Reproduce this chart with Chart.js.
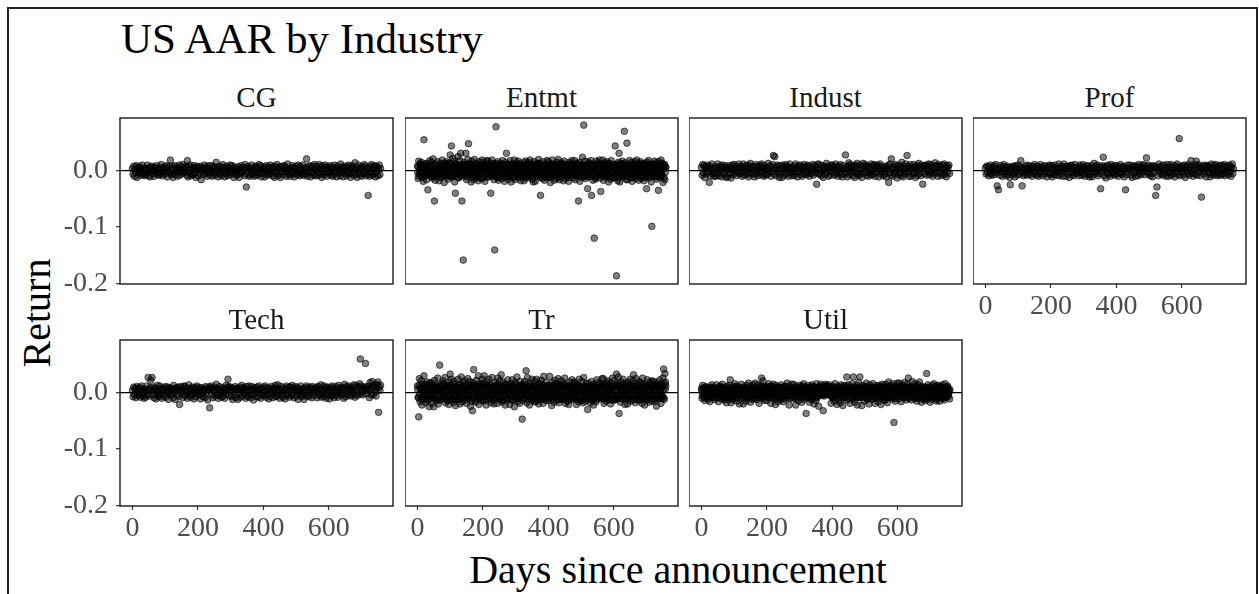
<!DOCTYPE html>
<html>
<head>
<meta charset="utf-8">
<script src="https://cdn.jsdelivr.net/npm/chart.js@4.4.0/dist/chart.umd.min.js"></script>
<style>
  html, body { margin: 0; padding: 0; background: #fff; }
  #fig { position: relative; width: 1259px; height: 594px; overflow: hidden; background: #fff;
         font-family: "Liberation Serif", "Times New Roman", serif; }
  #frame { position: absolute; left: 7px; top: 7px; width: 1251px; height: 620px;
           border: 2px solid #222; box-sizing: border-box; }
  .txt { position: absolute; white-space: nowrap; line-height: 1; }
  canvas { position: absolute; }
</style>
</head>
<body>
<div id="fig">
  <div id="frame"></div>
  <div class="txt" id="title" style="left:121px; top:17px; font-size:43px; color:#000;">US AAR by Industry</div>
  <div class="txt" id="ytitle" style="left:36.5px; top:313px; font-size:40px; color:#000; transform:translate(-50%,-50%) rotate(-90deg);">Return</div>
  <div class="txt" id="xtitle" style="left:678px; top:550px; font-size:40px; color:#000; transform:translateX(-50%);">Days since announcement</div>
</div>
<script>
// Facet order (left to right, top to bottom)
const industries = ['CG', 'Entmt', 'Indust', 'Prof', 'Tech', 'Tr', 'Util'];

// Days since announcement: even days (all facets)
const days = [
  0,2,4,6,8,10,12,14,16,18,20,22,24,26,28,30,32,34,36,38,
  40,42,44,46,48,50,52,54,56,58,60,62,64,66,68,70,72,74,76,78,
  80,82,84,86,88,90,92,94,96,98,100,102,104,106,108,110,112,114,116,118,
  120,122,124,126,128,130,132,134,136,138,140,142,144,146,148,150,152,154,156,158,
  160,162,164,166,168,170,172,174,176,178,180,182,184,186,188,190,192,194,196,198,
  200,202,204,206,208,210,212,214,216,218,220,222,224,226,228,230,232,234,236,238,
  240,242,244,246,248,250,252,254,256,258,260,262,264,266,268,270,272,274,276,278,
  280,282,284,286,288,290,292,294,296,298,300,302,304,306,308,310,312,314,316,318,
  320,322,324,326,328,330,332,334,336,338,340,342,344,346,348,350,352,354,356,358,
  360,362,364,366,368,370,372,374,376,378,380,382,384,386,388,390,392,394,396,398,
  400,402,404,406,408,410,412,414,416,418,420,422,424,426,428,430,432,434,436,438,
  440,442,444,446,448,450,452,454,456,458,460,462,464,466,468,470,472,474,476,478,
  480,482,484,486,488,490,492,494,496,498,500,502,504,506,508,510,512,514,516,518,
  520,522,524,526,528,530,532,534,536,538,540,542,544,546,548,550,552,554,556,558,
  560,562,564,566,568,570,572,574,576,578,580,582,584,586,588,590,592,594,596,598,
  600,602,604,606,608,610,612,614,616,618,620,622,624,626,628,630,632,634,636,638,
  640,642,644,646,648,650,652,654,656,658,660,662,664,666,668,670,672,674,676,678,
  680,682,684,686,688,690,692,694,696,698,700,702,704,706,708,710,712,714,716,718,
  720,722,724,726,728,730,732,734,736,738,740,742,744,746,748,750,752,754,756,758
];

// Days since announcement: odd days (wide-spread facets)
const daysOdd = [
  1,3,5,7,9,11,13,15,17,19,21,23,25,27,29,31,33,35,37,39,
  41,43,45,47,49,51,53,55,57,59,61,63,65,67,69,71,73,75,77,79,
  81,83,85,87,89,91,93,95,97,99,101,103,105,107,109,111,113,115,117,119,
  121,123,125,127,129,131,133,135,137,139,141,143,145,147,149,151,153,155,157,159,
  161,163,165,167,169,171,173,175,177,179,181,183,185,187,189,191,193,195,197,199,
  201,203,205,207,209,211,213,215,217,219,221,223,225,227,229,231,233,235,237,239,
  241,243,245,247,249,251,253,255,257,259,261,263,265,267,269,271,273,275,277,279,
  281,283,285,287,289,291,293,295,297,299,301,303,305,307,309,311,313,315,317,319,
  321,323,325,327,329,331,333,335,337,339,341,343,345,347,349,351,353,355,357,359,
  361,363,365,367,369,371,373,375,377,379,381,383,385,387,389,391,393,395,397,399,
  401,403,405,407,409,411,413,415,417,419,421,423,425,427,429,431,433,435,437,439,
  441,443,445,447,449,451,453,455,457,459,461,463,465,467,469,471,473,475,477,479,
  481,483,485,487,489,491,493,495,497,499,501,503,505,507,509,511,513,515,517,519,
  521,523,525,527,529,531,533,535,537,539,541,543,545,547,549,551,553,555,557,559,
  561,563,565,567,569,571,573,575,577,579,581,583,585,587,589,591,593,595,597,599,
  601,603,605,607,609,611,613,615,617,619,621,623,625,627,629,631,633,635,637,639,
  641,643,645,647,649,651,653,655,657,659,661,663,665,667,669,671,673,675,677,679,
  681,683,685,687,689,691,693,695,697,699,701,703,705,707,709,711,713,715,717,719,
  721,723,725,727,729,731,733,735,737,739,741,743,745,747,749,751,753,755,757,759
];

// Average abnormal returns per industry (even days)
const aarCG = [
  .004,-.006,.008,-.010,.002,-.003,.009,-.012,.001,.006,-.004,.007,-.008,.003,-.001,.010,-.006,.002,-.009,.005,
  -.007,.003,-.004,.010,-.009,.000,.005,-.011,.007,-.002,.008,-.005,.001,-.010,.006,.004,-.003,.009,-.007,.002,
  .002,-.008,.006,-.005,.011,-.003,-.009,.004,-.001,.007,-.006,.003,.009,-.011,.005,-.002,.008,-.004,.019,-.007,
  -.006,.008,-.012,.003,-.004,.009,-.007,.001,.006,-.010,.004,-.002,.010,-.008,.002,.007,-.005,.011,-.003,.001,
  .005,-.002,.008,-.008,.018,-.011,.007,-.003,.010,-.006,-.009,.004,.001,-.007,.009,-.004,.006,-.012,.003,.008,
  .001,-.009,.006,-.004,.008,-.016,.002,.005,-.007,.003,.010,-.005,-.001,.007,-.010,.004,-.003,.009,-.008,.002,
  -.002,.009,-.010,.004,-.005,.007,-.008,.002,.015,-.004,.006,-.011,.003,.008,-.006,.001,-.009,.005,.011,-.003,
  .006,-.011,.003,-.006,.008,-.001,-.009,.005,-.003,.010,-.007,.002,.009,-.004,.004,-.012,.007,-.002,.001,-.008,
  -.007,.002,.007,-.012,.004,-.005,.009,-.003,-.002,.006,.003,-.009,.011,-.006,-.029,.005,-.001,.008,-.010,.004,
  -.008,.003,.010,-.006,.001,-.010,.005,-.003,.008,-.009,.006,-.002,-.007,.011,-.004,.002,.009,-.011,.004,-.005,
  .002,.007,-.011,.004,-.005,.009,-.002,-.008,.006,.001,-.006,.010,-.003,.005,-.009,.007,.003,-.012,.008,-.001,
  -.004,.011,-.009,.003,-.006,.007,-.012,.005,-.001,.008,.004,-.007,.009,-.002,.006,-.010,.001,.012,-.005,.003,
  -.010,.004,.002,-.007,.009,-.003,.006,-.011,.003,-.005,.008,-.001,-.008,.010,-.004,.005,-.009,.007,.002,-.006,
  .010,-.002,-.008,.004,.005,-.006,.021,-.010,.007,-.004,.001,.009,-.011,.006,-.003,.008,-.007,.003,.011,-.009,
  .002,.008,-.009,.004,-.003,.011,-.007,.001,.006,-.012,.009,-.005,.003,-.008,.010,-.002,.005,-.010,.007,-.004,
  .005,-.004,.009,-.008,.002,.007,-.010,.003,-.006,.010,-.001,.006,-.011,.004,.008,-.005,.002,-.009,.012,-.003,
  -.002,.006,-.011,.004,.008,-.005,.001,-.009,.007,-.003,.010,-.006,.004,-.012,.003,.009,-.004,.006,-.008,.001,
  .014,-.007,.003,-.012,.005,.010,-.004,.002,-.008,.006,-.010,.007,.001,-.005,.011,-.003,.008,-.009,.004,-.006,
  -.044,.004,-.010,.007,-.003,.011,-.008,.002,-.006,.009,.005,-.011,.008,-.002,.006,-.009,.003,.010,-.007,.004
];
const aarEntmt = [
  .008,-.014,.017,-.006,.012,-.003,.015,-.011,.004,-.019,.055,.009,-.008,.013,-.016,.002,-.034,.011,-.005,.018,
  -.009,.015,-.002,-.013,.021,.007,-.054,-.017,.011,.003,-.010,.016,-.004,-.018,.008,.013,-.012,.005,.019,-.007,
  .006,-.021,.013,-.008,.016,-.003,.010,-.015,.002,.014,.028,-.011,.044,.006,.022,-.009,.017,-.020,-.040,.012,
  .009,-.006,.025,-.013,.004,.018,.031,-.010,-.054,.007,-.159,.015,-.004,.011,.031,-.016,.003,.020,.048,-.008,
  -.006,.012,-.020,.017,-.003,.009,-.016,.020,-.010,.005,.013,-.012,.001,-.018,.016,-.005,.010,-.014,.007,.019,
  .015,-.013,.003,-.019,.011,-.007,.017,.018,-.002,-.011,.006,.014,-.040,-.009,.019,-.004,.008,-.016,-.141,.012,
  .078,-.012,.007,.016,-.017,.004,-.009,.013,.002,-.014,.018,-.006,.011,-.019,.005,.015,.031,-.010,.003,-.015,
  .010,-.005,.018,-.020,.006,.012,-.011,.002,.019,-.016,.008,-.003,.014,-.008,.017,-.013,.001,.010,-.018,.006,
  .008,-.008,.014,-.018,.001,.017,-.013,.009,-.004,.015,-.011,.005,.019,-.007,.012,-.015,.003,-.020,.016,-.002,
  -.019,.011,.005,-.010,.013,.020,-.007,.013,-.044,.003,.009,-.014,.016,-.004,-.017,.010,.006,-.012,.018,-.006,
  .016,-.012,.008,-.021,.012,-.003,.019,-.009,.006,-.017,.011,.004,-.014,.015,-.007,.020,-.002,-.016,.009,.013,
  .014,-.006,.010,-.018,.017,-.001,-.014,.011,.004,-.011,.007,-.019,.015,-.005,.012,-.009,.018,.002,-.013,.008,
  .018,-.016,.007,-.009,.013,-.008,-.054,.015,-.019,.009,.004,-.012,.024,.010,.081,-.006,.017,-.014,.001,.011,
  -.032,.015,-.006,.012,-.010,.018,-.044,.005,-.017,.011,-.120,.007,-.015,.017,-.010,.003,.014,-.008,.019,-.013,
  -.037,.012,-.004,.019,-.017,.008,-.011,.014,-.002,.016,-.009,.010,-.020,.005,.013,-.015,.018,-.003,.007,-.012,
  -.013,.009,.044,-.006,-.187,.012,-.018,.015,.031,-.020,.006,.013,-.008,.017,-.011,.004,.070,-.009,.014,-.016,
  .049,-.016,.010,-.005,.018,-.012,.003,.015,-.019,.007,.012,-.008,.016,-.014,.005,.019,-.003,.010,-.017,.013,
  -.008,.016,-.014,.011,-.003,.009,-.018,.013,.002,-.011,-.032,.015,-.006,.018,-.013,.007,.011,-.020,-.099,.004,
  .012,-.010,.017,-.006,.014,-.015,.008,-.003,-.035,.016,-.012,.009,.019,-.007,.013,-.021,.005,.010,-.016,.006
];
const aarIndust = [
  .006,-.008,.011,-.004,.009,-.012,.003,.007,-.006,.010,-.002,.005,-.021,.008,-.009,.001,.012,-.005,.004,-.010,
  -.003,.007,-.010,.005,-.006,.012,-.001,-.009,.004,.008,.002,-.011,.010,-.004,.006,-.007,.009,.001,-.012,.005,
  -.011,.002,.009,-.005,.006,-.013,.003,.010,-.007,.001,.011,-.004,.008,-.009,.004,.006,-.002,.012,-.006,.003,
  .008,-.004,-.010,.006,.012,-.002,-.008,.004,.009,-.006,.001,.010,-.011,.005,-.003,.013,-.007,.002,.008,-.005,
  .003,-.011,.007,.011,-.005,.002,-.009,.008,-.003,.010,.006,-.007,.012,-.001,.004,-.010,.009,.005,-.008,.001,
  -.007,.005,.013,-.004,.001,.009,-.010,.006,-.002,.011,.027,-.006,.025,.003,-.009,.007,.010,-.004,.002,-.012,
  .009,-.006,.004,-.012,.010,-.001,.007,-.008,.003,.011,-.005,.008,.001,-.010,.006,.012,-.003,.005,-.009,.002,
  -.005,.008,-.009,.002,.012,-.004,.006,-.011,.009,-.002,.004,.010,-.007,.003,-.010,.007,.001,.011,-.006,.005,
  .005,-.007,.010,-.003,.008,-.010,.001,.007,-.005,.004,.011,-.008,.002,.009,-.004,.006,-.024,.003,.012,-.006,
  .011,-.005,.003,-.009,.009,-.001,-.012,.006,.002,-.006,.008,.013,-.003,.004,-.010,.007,.001,-.008,.010,.005,
  .010,-.003,.007,-.008,.004,.012,-.005,.001,-.010,.008,-.002,.006,.011,-.007,.003,-.011,.009,.004,-.006,.002,
  .028,-.004,.006,-.011,.009,.014,-.007,.003,.011,-.002,.005,-.009,.008,.001,-.012,.010,-.004,.007,.013,-.006,
  -.009,.005,.010,-.006,.002,-.012,.008,.013,-.004,.006,.011,-.003,-.008,.009,.004,-.010,.007,.001,-.005,.012,
  -.008,.001,.009,-.005,.011,-.010,.004,.007,-.003,.010,.006,-.011,.002,.012,-.006,.008,-.001,.005,-.009,.003,
  -.006,.008,-.011,.005,.002,.009,-.021,-.004,.012,-.008,.021,.003,-.010,.007,.001,-.005,.011,-.002,.009,-.013,
  .003,-.007,.010,-.004,.006,-.009,.015,.004,-.011,.008,.002,-.006,.012,-.003,.027,-.001,.008,-.010,.005,.011,
  -.010,.005,.002,-.006,.011,-.003,.007,-.012,.004,.009,-.008,.001,.013,-.005,.006,-.009,.010,.003,-.024,.007,
  .009,-.005,.003,.010,-.008,.006,-.002,.012,-.007,.001,.011,-.004,.008,-.010,.005,.002,-.006,.014,-.003,.009,
  .008,-.010,.005,.011,-.004,.007,-.009,.003,.010,-.006,.002,.012,-.007,.004,-.011,.009,-.002,.006,.010,-.005
];
const aarProf = [
  .005,-.006,.008,-.003,.007,-.009,.002,.010,-.005,.004,-.008,.006,-.002,.009,-.007,.003,.011,-.004,-.027,.001,
  -.034,.004,-.008,.009,-.002,.006,-.010,.003,.011,-.005,.007,-.001,-.009,.005,.008,-.006,.002,-.012,-.025,.006,
  .001,-.007,.008,-.004,.006,-.011,.009,-.002,.004,-.008,.010,.003,-.006,.007,.018,-.003,-.027,.005,-.009,.002,
  -.006,.007,-.003,.010,-.008,.004,-.001,.009,-.007,.005,.002,-.010,.008,-.004,.006,.011,-.005,.001,-.008,.007,
  .008,-.010,.003,-.005,.011,-.002,.006,-.009,.004,.007,-.006,.009,-.001,.005,-.011,.003,.008,-.004,.010,-.007,
  -.004,.009,-.011,.002,.006,-.007,.010,-.003,.005,-.008,.004,-.002,.012,-.009,.007,.001,-.005,.008,-.010,.003,
  .012,-.001,.007,-.010,.003,.008,-.006,.004,-.012,.009,-.003,.006,.010,-.007,.002,-.009,.005,.011,-.004,.001,
  -.005,.006,.002,-.009,.010,-.003,.007,-.008,.001,.011,-.006,.004,-.010,.008,.003,-.002,.009,-.007,.005,-.011,
  -.007,.004,.009,-.011,.005,-.002,.013,-.006,.002,.008,-.004,.010,-.009,.003,.006,-.005,-.032,.007,-.001,.009,
  .024,-.009,.006,.001,-.013,.008,-.004,.010,-.007,.002,.005,-.010,.011,-.003,.007,-.006,.004,.009,-.008,.001,
  .009,-.005,.004,-.010,.007,-.003,.011,-.006,.005,-.006,.002,.008,-.011,.006,-.034,.003,-.007,.010,-.002,.004,
  .003,.010,-.008,.006,-.012,.002,.008,-.004,.009,-.010,.005,-.001,.007,-.009,.011,-.005,.003,.006,-.007,.010,
  .006,-.002,.011,.004,-.007,.004,.023,.008,-.003,.010,-.006,.002,-.009,.007,.005,-.011,.009,-.004,.001,.008,
  -.044,.006,-.029,.005,-.009,.012,-.001,.007,-.006,.003,.009,-.008,.004,.010,-.005,.002,-.010,.006,.011,-.003,
  -.010,.006,-.004,.011,-.008,.002,.008,-.005,.003,-.011,.009,-.002,.006,.012,-.007,.004,.057,-.009,.007,-.003,
  .004,.009,-.007,.003,.010,-.012,.006,-.002,.008,-.005,.011,-.008,.001,.007,.018,-.004,.009,-.010,.005,.002,
  -.006,.010,.017,-.008,.005,.011,-.003,.007,-.009,.004,-.047,.008,.001,-.006,.010,-.002,.007,-.011,.003,.009,
  .009,-.004,.006,-.011,.002,.012,-.007,.005,-.003,.010,-.008,.004,.011,-.005,.007,-.009,.002,.008,-.006,.010,
  -.008,.004,.009,-.006,.001,.011,-.009,.006,-.004,.008,.003,-.007,.010,-.002,.005,-.010,.007,.012,-.005,.003
];
const aarTech = [
  .004,-.007,.010,-.003,.008,-.009,.002,.011,-.005,.006,-.002,.009,-.008,.004,.012,-.006,.001,.007,-.010,.005,
  -.008,.003,.012,-.004,.027,.006,-.006,.009,.022,.005,.027,-.003,.010,-.009,.004,.008,-.011,.002,.013,-.005,
  .001,-.007,.012,-.002,.008,-.010,.004,.007,-.006,.010,.003,-.008,.011,-.001,.006,-.012,.009,.002,-.004,.008,
  -.003,.006,-.009,.013,.002,-.012,.007,.005,.009,-.004,.010,-.007,-.021,.004,.011,-.002,.006,-.009,.003,.012,
  .011,-.006,.003,.008,-.010,.001,.014,-.005,.007,-.008,.004,.010,-.003,.006,-.011,.009,.002,-.007,.012,-.001,
  .002,.010,-.004,.006,-.011,.009,-.001,.005,-.007,.003,.008,-.009,.011,-.002,.006,-.013,.004,.010,-.027,.007,
  .012,-.003,.008,-.009,.004,.010,-.006,.002,.015,-.004,.007,-.010,.005,.011,-.005,.003,-.008,.009,.001,-.006,
  .007,-.010,.005,.013,-.002,.009,.024,.011,-.005,.003,.010,-.007,.006,-.012,.008,.002,-.004,.011,-.009,.005,
  .008,-.012,.006,-.001,.010,-.008,.004,.013,-.006,.002,.009,-.003,.007,-.010,.011,.005,-.007,.003,.012,-.004,
  -.009,.007,.011,-.004,.005,-.013,.009,-.002,.006,-.007,.010,.004,-.008,.012,-.001,.006,-.010,.008,.003,-.005,
  .010,-.005,.003,.012,-.008,.006,-.003,.009,-.011,.004,.007,-.006,.011,.001,-.009,.008,-.002,.005,.013,-.007,
  .008,-.006,.014,-.002,.007,-.010,.005,.011,-.004,.002,-.008,.009,.003,-.011,.006,.012,-.005,.004,-.003,.010,
  -.008,.010,.006,-.005,.013,-.001,.008,-.009,.004,.011,-.006,.003,.009,-.012,.007,.001,-.004,.012,-.007,.005,
  -.003,.007,-.012,.009,.002,-.006,.012,-.004,.008,-.007,.005,.010,-.002,.006,-.009,.011,.003,-.005,.008,.001,
  .005,.010,-.009,.003,.011,-.005,.007,-.002,.014,-.008,.006,.001,-.007,.012,-.003,.009,-.010,.004,.010,-.004,
  .006,-.011,.009,.001,-.006,.012,-.003,.008,-.009,.004,.011,-.005,.007,.002,-.008,.013,.000,-.004,.009,.005,
  .010,-.004,.007,-.010,.015,.002,-.007,.011,-.002,.006,.012,-.005,.008,.003,-.006,.010,.004,-.003,.014,.001,
  -.008,.013,.005,-.005,.009,.011,-.003,.016,.060,-.001,.012,.006,-.004,.010,.003,.008,.052,-.002,.011,.007,
  .011,.004,-.009,.018,.007,-.004,.020,.012,-.003,.009,.014,.002,-.006,.015,.008,.019,-.035,.010,.004,.013
];
const aarTr = [
  .012,-.008,-.043,.025,-.016,.006,.021,-.022,.009,-.011,.030,-.003,.015,-.018,.004,.019,-.013,.008,-.025,.017,
  -.005,.018,-.019,.014,.002,-.025,.022,-.009,.011,-.014,.007,.026,-.020,.003,.049,-.013,.007,.016,-.006,.021,
  .016,-.009,.027,-.018,.004,.013,-.014,.011,-.021,.019,.033,-.004,.024,-.012,.008,-.017,.020,.002,-.023,.010,
  .001,-.012,.024,-.007,.015,-.020,.008,.028,-.016,.005,.017,-.010,.021,-.003,.013,-.019,.006,.025,-.008,.014,
  .020,-.024,.009,-.015,-.032,.018,.041,-.003,.013,-.017,.022,.006,-.010,.030,-.021,.011,-.006,.016,-.014,.024,
  .017,-.015,.030,-.006,.010,-.022,.019,.003,-.013,.024,-.009,.014,-.018,.008,.027,-.004,.012,-.020,.005,.018,
  -.008,.014,-.019,.026,.001,-.011,.021,-.004,.032,-.017,.009,.019,-.013,.006,-.022,.015,.003,-.009,.023,-.002,
  .009,-.021,.016,.004,-.014,.023,-.007,.012,-.025,.018,.002,-.011,.028,-.016,.010,.005,-.019,.020,-.003,.013,
  -.047,.006,.015,-.010,.020,.002,.039,-.018,.027,-.006,.012,-.022,.017,.001,-.012,.024,-.007,.009,-.016,.021,
  .011,-.016,.024,-.003,.008,-.020,.017,.005,-.011,.022,-.005,.014,-.019,.029,.003,-.008,.018,-.014,.010,-.001,
  -.014,.013,.029,-.008,.004,-.023,.018,-.002,.010,-.017,.022,.007,-.012,.016,-.005,.025,-.018,.011,.001,-.009,
  .021,.003,-.012,.016,-.006,.026,-.019,.009,.001,-.015,.012,-.021,.019,-.004,.008,-.013,.023,.002,-.010,.017,
  .019,-.010,.007,-.021,.014,.002,-.016,.024,-.005,.011,-.013,.020,.004,-.018,.027,-.007,.010,-.015,.016,.001,
  -.030,.017,-.007,.012,-.018,.004,.020,-.013,.008,-.022,.015,-.003,.011,-.016,.023,.006,-.010,.018,-.005,.009,
  .015,-.004,.025,-.011,.025,-.019,.013,.001,-.015,.018,-.007,.021,-.012,.005,.016,-.020,.009,-.002,.026,-.014,
  -.009,.022,.014,-.012,.033,.016,-.006,.028,-.037,.010,-.017,.019,.003,-.011,.024,-.005,.012,-.021,.017,.006,
  .003,-.020,.019,-.008,.014,.024,-.015,.007,-.003,.021,.032,-.012,.010,-.018,.025,-.006,.015,.001,-.013,.020,
  -.013,.017,.005,-.019,.026,-.007,.011,-.022,.016,.002,-.010,.023,-.004,.013,-.017,.019,.008,-.014,.021,-.002,
  -.011,.020,-.016,.009,.014,-.024,.018,-.004,.012,-.008,.023,.004,-.019,.015,-.006,.026,.042,-.012,.034,.019
];
const aarUtil = [
  .007,-.010,.013,-.004,.009,-.014,.003,.011,-.007,.005,-.012,.008,.001,-.016,.010,-.003,.014,-.009,.004,-.006,
  -.012,.008,-.002,.014,-.009,.004,-.016,.010,-.005,.012,.002,-.011,.015,-.007,.006,-.013,.009,.001,-.018,.011,
  .002,-.011,.013,-.006,.023,-.018,.006,.001,-.013,.011,-.004,.016,-.009,.007,-.015,.012,-.002,.009,-.020,.005,
  -.003,.015,-.008,.004,-.020,.010,-.001,.007,-.015,.013,.006,-.010,.017,-.005,.008,-.017,.011,.003,-.012,.014,
  .005,-.010,.017,-.004,.008,-.012,.014,.002,-.019,.010,-.006,.013,.026,-.008,.021,.004,-.014,.011,-.003,.009,
  -.014,.011,-.002,.016,-.009,.006,-.019,.012,.001,-.008,.015,-.011,.007,-.021,.013,-.004,.009,-.016,.010,.002,
  .009,-.013,.014,-.005,.010,-.016,.004,.008,-.011,.012,-.007,.017,-.003,.006,-.022,.011,.001,-.010,.015,-.006,
  -.006,.015,-.010,.003,-.022,.011,-.003,.007,-.014,.009,.013,-.008,.005,-.017,.012,-.001,.016,-.012,.004,.010,
  -.037,.005,-.009,.013,-.001,-.017,.010,.002,-.012,.014,-.005,.011,-.020,.008,.003,-.014,.016,-.007,.009,-.024,
  .006,.011,.015,-.004,.009,.004,-.032,.013,.010,.006,.015,.003,.012,-.002,.008,.014,.001,-.005,-.019,.008,
  .012,-.010,.003,-.015,.016,-.006,.009,-.021,.005,.011,-.013,.007,-.018,.014,-.004,.010,-.023,.006,.013,-.009,
  -.008,.012,.028,-.013,.014,-.002,.007,-.019,.010,-.005,.016,-.011,.028,.004,-.017,.009,-.007,.013,-.022,.006,
  .018,-.008,.028,-.009,.006,-.023,.013,-.003,.008,-.015,.011,-.006,.017,-.012,.003,.010,-.020,.014,-.001,.007,
  .002,-.012,.016,-.006,.009,-.019,.004,.012,-.010,.007,-.016,.013,-.004,.010,-.021,.006,.015,-.008,.011,-.013,
  -.014,.015,-.003,.010,-.018,.006,.019,-.009,-.008,.013,.004,-.011,.016,-.005,-.053,.008,-.015,.012,-.002,.017,
  .004,-.011,.017,-.005,.009,-.016,.014,-.002,.012,-.009,.018,-.007,.010,-.013,.006,.015,.026,-.010,.008,-.004,
  .011,-.013,.020,-.004,.007,-.010,.016,-.007,.012,-.015,.005,.014,-.009,.019,-.003,.008,-.017,.011,.002,-.012,
  .003,.009,-.014,.006,.034,-.011,.014,-.006,.010,-.017,.005,.008,-.012,.013,-.004,.016,-.009,.007,.012,-.015,
  -.012,.013,-.003,.009,-.015,.011,-.007,.004,.014,-.010,.008,-.013,.016,-.005,.010,-.008,.012,-.002,.006,-.011
];

// Odd-day returns for the facets with the widest spread
const aarEntmtOdd = [
  -.004,.007,-.010,.002,.011,-.006,.003,-.012,.008,-.001,.005,-.009,.012,-.003,.006,-.007,.001,.010,-.005,.004,
  .009,-.002,-.011,.006,.003,-.008,.012,-.004,.000,.007,-.010,.004,.008,-.006,.002,-.012,.010,-.003,.005,-.008,
  -.001,.011,-.007,.004,-.010,.008,.002,-.005,.013,-.009,.006,-.002,.009,-.011,.003,.007,-.006,.001,.012,-.004,
  .005,-.012,.009,-.003,.006,-.008,.011,.000,-.006,.010,-.002,.004,-.009,.007,.001,-.011,.012,-.005,.003,.008,
  -.007,.002,.010,-.004,.008,-.012,.005,.001,-.009,.011,-.003,.006,-.010,.004,.009,-.006,.002,-.013,.007,.000,
  .006,-.005,.012,-.008,.003,.010,-.011,.004,-.002,.008,-.007,.011,.001,-.010,.005,-.003,.009,-.006,.013,-.001,
  -.009,.004,.007,-.012,.010,-.003,.002,-.008,.011,.005,-.006,.000,.009,-.011,.004,.006,-.004,.012,-.007,.001,
  .003,-.010,.011,-.001,-.006,.008,.004,-.012,.007,-.003,.010,-.008,.002,.005,-.009,.012,-.002,-.005,.008,-.011,
  .010,-.004,.001,.009,-.011,.006,-.007,.003,.012,-.002,-.008,.007,-.005,.011,.000,-.010,.004,.008,-.003,.006,
  -.006,.012,-.009,.002,.005,-.003,.010,-.012,.007,.001,-.004,.009,-.010,.003,.011,-.007,.006,-.001,-.008,.010,
  .002,-.007,.008,-.011,.004,.012,-.005,.000,.009,-.009,.006,-.002,.011,-.006,.003,-.012,.007,.010,-.004,.001,
  -.010,.005,.003,-.006,.011,-.001,.008,-.009,.004,.010,-.012,.006,-.003,.009,-.007,.002,.012,-.005,.000,.007,
  .008,-.003,-.008,.012,-.005,.006,.001,-.010,.009,-.002,.011,-.007,.004,-.011,.007,.003,-.004,.010,-.009,.005,
  .004,-.011,.010,-.002,.007,-.006,.012,-.008,.001,.005,-.003,.009,-.012,.006,.002,-.009,.011,-.001,-.007,.008,
  -.005,.009,-.002,.006,-.010,.011,-.004,.003,-.008,.012,.000,-.006,.007,-.011,.010,.004,-.003,.008,-.012,.002,
  .011,-.008,.005,.001,-.004,.009,-.012,.007,-.001,.010,-.010,.003,.006,-.005,.012,-.007,.002,-.009,.004,.008,
  -.003,.006,-.010,.011,.002,-.007,.008,-.004,.010,-.012,.005,.001,-.008,.009,-.002,.012,-.006,.003,.007,-.011,
  .009,-.001,.004,-.009,.012,-.005,.002,.007,-.012,.006,-.003,.010,-.008,.001,.011,-.006,.004,-.010,.008,.000,
  -.008,.010,-.004,.005,-.011,.003,.009,-.002,.006,-.010,.012,-.006,.002,-.009,.007,.004,-.012,.011,-.003,.006
];
const aarTrOdd = [
  .006,-.009,.013,-.003,.010,-.012,.004,.008,-.006,.015,-.001,.011,-.010,.005,.002,-.013,.009,-.004,.014,-.007,
  .003,-.011,.012,-.002,.007,.010,-.008,.001,.014,-.005,.009,-.013,.004,.011,-.006,.006,-.010,.013,-.001,.008,
  -.004,.012,-.009,.005,.010,-.014,.007,.002,-.007,.013,-.002,.009,-.011,.004,.015,-.005,.001,-.012,.011,.006,
  .009,-.006,.003,-.012,.014,.000,-.008,.010,-.003,.007,-.010,.012,.005,-.013,.008,.002,-.005,.011,-.009,.004,
  -.011,.007,.013,-.004,.001,-.009,.010,.006,-.014,.012,-.002,.004,-.007,.015,-.010,.008,.003,-.006,.011,-.001,
  .005,-.012,.009,.002,-.005,.014,-.008,.011,-.003,.006,.013,-.010,.001,-.006,.010,-.013,.007,.004,-.009,.012,
  -.002,.010,-.007,.013,-.011,.005,.008,-.004,.012,-.014,.003,.009,-.006,.001,.014,-.009,.006,-.012,.010,.002,
  .011,-.003,.006,-.010,.004,.012,-.013,.007,.001,-.008,.015,-.005,.009,-.011,.003,.010,-.007,.013,-.002,-.009,
  .007,-.014,.010,.002,-.006,.013,-.001,.008,-.011,.005,-.004,.012,-.009,.006,.011,-.012,.003,-.005,.014,-.003,
  -.008,.011,.004,-.013,.009,-.002,.014,-.007,.005,.010,-.012,.001,.013,-.004,-.010,.008,.002,-.011,.007,.012,
  .001,-.005,.012,-.009,.006,.003,-.012,.010,-.001,.014,-.008,.005,-.003,.011,-.013,.009,-.006,.004,.013,-.010,
  -.012,.008,-.004,.011,-.007,.014,.002,-.010,.009,-.005,.006,.012,-.011,.003,.010,-.002,-.008,.013,-.006,.005,
  .010,-.007,.003,-.012,.013,-.001,.007,-.009,.011,.004,-.014,.008,.001,-.006,.012,-.010,.005,.009,-.003,-.011,
  .004,.012,-.010,.006,-.003,.009,-.013,.011,.002,-.008,.013,-.005,.007,-.012,.001,.010,-.006,.014,-.009,.003,
  -.007,.005,.011,-.011,.008,-.004,.012,.000,-.009,.010,-.002,.014,-.012,.006,.003,-.007,.011,-.001,.008,-.013,
  .012,-.009,.006,.003,-.012,.010,-.005,.013,-.008,.004,.009,-.003,.015,-.010,.007,-.006,.001,.011,-.011,.005,
  -.005,.013,-.010,.008,.002,-.007,.011,-.012,.005,.014,-.004,.007,-.009,.012,-.001,.009,-.013,.004,.010,-.006,
  .008,-.002,.014,-.011,.006,.001,-.008,.012,-.005,.009,-.013,.004,.011,-.007,.013,.002,-.010,.007,-.003,.015,
  .003,-.012,.009,.005,-.008,.013,-.004,.010,-.011,.007,.001,-.006,.014,-.010,.011,.004,-.009,.016,.006,.012
];
const aarUtilOdd = [
  .003,-.006,.008,-.002,.005,-.009,.007,.001,-.004,.009,-.007,.002,.006,-.008,.004,-.003,.009,-.005,.000,.007,
  -.005,.008,-.001,.006,-.009,.003,.007,-.006,.010,-.002,.004,-.008,.009,-.004,.001,.006,-.010,.005,.002,-.007,
  .006,-.003,.009,-.007,.002,.005,-.010,.008,-.001,.004,-.006,.010,-.004,.003,.007,-.009,.001,.008,-.005,.002,
  -.008,.004,.006,-.003,.009,-.006,.002,-.010,.007,.000,.005,-.007,.008,-.002,-.005,.010,-.008,.003,.006,-.004,
  .004,-.009,.002,.007,-.004,.009,-.006,.005,.001,-.008,.010,-.003,.006,-.010,.003,.008,-.005,.000,.009,-.007,
  -.002,.007,-.008,.004,.006,-.005,.010,-.003,.008,-.009,.002,.005,-.006,.009,-.001,-.007,.007,.003,-.010,.006,
  .008,-.004,.003,-.009,.007,.001,-.006,.010,-.002,.005,-.008,.006,.002,-.005,.009,-.010,.004,.007,-.003,.001,
  -.006,.009,.005,-.002,-.010,.006,.003,-.007,.008,-.004,.001,.010,-.009,.004,.006,-.003,.008,-.006,.002,-.008,
  .005,-.001,.009,-.006,.003,-.010,.007,.002,-.004,.010,-.008,.005,.000,-.007,.008,.004,-.009,.006,-.002,.003,
  .007,-.003,.010,-.005,.008,-.002,.003,-.006,.005,-.004,.011,-.003,.007,-.001,.006,.009,-.003,.005,-.007,.008,
  -.007,.005,-.003,.009,-.009,.006,.001,-.005,.010,-.002,.004,-.008,.007,.003,-.006,.009,-.010,.005,.002,-.004,
  .009,-.006,.002,.007,-.010,.004,-.003,.008,-.007,.001,.010,-.005,.006,-.009,.003,.005,-.002,.009,-.008,.004,
  -.003,.008,-.009,.005,.002,-.006,.010,-.004,.007,-.001,-.008,.006,.003,-.010,.009,-.005,.004,.001,-.007,.010,
  .006,-.010,.004,.009,-.003,.007,-.008,.002,.005,-.006,.010,-.002,-.009,.008,.001,-.004,.006,-.007,.009,.003,
  -.009,.003,.008,-.005,.006,-.001,.009,-.008,.004,.007,-.004,.002,.010,-.007,.005,-.010,.008,.000,-.006,.004,
  .002,-.007,.010,-.002,.005,.008,-.006,.003,-.009,.007,.001,-.005,.009,-.003,.006,-.008,.004,.010,-.001,-.006,
  .008,-.005,.001,.006,-.008,.010,-.003,.004,.007,-.010,.005,-.002,.008,-.006,.003,.009,-.009,.002,.006,-.004,
  -.004,.010,-.007,.003,.007,-.002,.005,-.009,.009,.001,-.006,.008,-.003,.004,-.008,.006,.002,-.005,.010,-.007,
  .005,-.003,.009,-.008,.002,.007,-.005,.010,-.001,-.009,.006,.003,-.007,.008,-.002,.004,.009,-.006,.001,.005
];

const returnsBy = {
  CG: aarCG, Entmt: aarEntmt, Indust: aarIndust, Prof: aarProf,
  Tech: aarTech, Tr: aarTr, Util: aarUtil
};
const oddReturnsBy = { Entmt: aarEntmtOdd, Tr: aarTrOdd, Util: aarUtilOdd };

// Axis breaks
const xTickValues = [0, 200, 400, 600];
const yTickValues = [-0.2, -0.1, 0.0];

// Facet grid geometry
const FONT = '"Liberation Serif", "Times New Roman", serif';
const colLeft = [120, 405, 689, 973];
const rowTop = [118, 340];
const PW = 273, PH = 166;
const YAXIS_W = 118, XAXIS_H = 44, PAD = 4;

// Panel border drawn around each facet's plotting area
const panelBorder = {
  id: 'panelBorder',
  afterDraw(chart) {
    const a = chart.chartArea, ctx = chart.ctx;
    ctx.save();
    ctx.strokeStyle = '#1a1a1a';
    ctx.lineWidth = 1.4;
    ctx.strokeRect(a.left, a.top, a.right - a.left, a.bottom - a.top);
    ctx.restore();
  }
};

function noScalePadding(s) {
  s.paddingTop = 0; s.paddingBottom = 0; s.paddingLeft = 0; s.paddingRight = 0;
}

const fig = document.getElementById('fig');

industries.forEach((name, i) => {
  const col = i % 4, row = Math.floor(i / 4);
  const showY = col === 0;
  const showX = row === 1 || name === 'Prof';
  const left = colLeft[col] - (showY ? YAXIS_W : 0);
  const top = rowTop[row] - PAD;
  const w = PW + (showY ? YAXIS_W : 0) + PAD;
  const h = PAD + PH + XAXIS_H;

  // strip label
  const strip = document.createElement('div');
  strip.className = 'txt';
  strip.textContent = name;
  strip.style.cssText = `left:${colLeft[col]}px; width:${PW}px; text-align:center; top:${rowTop[row] - 35.5}px; font-size:29px; color:#1a1a1a;`;
  fig.appendChild(strip);

  const cv = document.createElement('canvas');
  cv.width = w; cv.height = h;
  cv.style.left = left + 'px';
  cv.style.top = top + 'px';
  cv.style.width = w + 'px';
  cv.style.height = h + 'px';
  fig.appendChild(cv);

  const vals = returnsBy[name];
  const pts = [];
  const odd = oddReturnsBy[name];
  if (odd) odd.forEach((v, k) => pts.push({ x: daysOdd[k], y: v }));
  vals.forEach((v, k) => pts.push({ x: days[k], y: v }));

  new Chart(cv, {
    type: 'scatter',
    data: {
      datasets: [{
        data: pts,
        backgroundColor: 'rgba(0,0,0,0.5)',
        borderColor: 'rgba(0,0,0,0.6)',
        borderWidth: 1,
        pointRadius: 3.3,
        pointHoverRadius: 3.3
      }]
    },
    options: {
      responsive: false,
      animation: false,
      events: [],
      layout: { padding: { left: 0, right: PAD, top: PAD, bottom: showX ? 0 : XAXIS_H }, autoPadding: false },
      plugins: { legend: { display: false }, tooltip: { enabled: false } },
      scales: {
        x: {
          type: 'linear',
          min: -37.9, max: 795.9,
          display: showX,
          border: { display: false },
          grid: { display: true, drawOnChartArea: false, drawTicks: true, tickLength: 4,
                  tickColor: '#333', tickWidth: 1.2, color: 'rgba(0,0,0,0)' },
          ticks: { font: { family: FONT, size: 28 }, color: '#4D4D4D', padding: 2,
                   maxRotation: 0, autoSkip: false, callback: v => String(v) },
          afterBuildTicks: s => { s.ticks = xTickValues.map(v => ({ value: v })); },
          afterFit: s => { s.height = showX ? XAXIS_H : 0; noScalePadding(s); }
        },
        y: {
          type: 'linear',
          min: -0.2015, max: 0.0937,
          display: true,
          border: { display: false },
          grid: {
            drawOnChartArea: true, drawTicks: showY, tickLength: 4,
            tickColor: '#333', tickWidth: 1.2, lineWidth: 1.3,
            color: c => (c.tick && Math.abs(c.tick.value) < 1e-9) ? '#000' : 'rgba(0,0,0,0)'
          },
          ticks: { display: showY, font: { family: FONT, size: 28 }, color: '#4D4D4D', padding: 8,
                   callback: v => Number(v).toFixed(1) },
          afterBuildTicks: s => { s.ticks = yTickValues.map(v => ({ value: v })); },
          afterFit: s => { s.width = showY ? YAXIS_W : 0; noScalePadding(s); }
        }
      }
    },
    plugins: [panelBorder]
  });
});
</script>
</body>
</html>
